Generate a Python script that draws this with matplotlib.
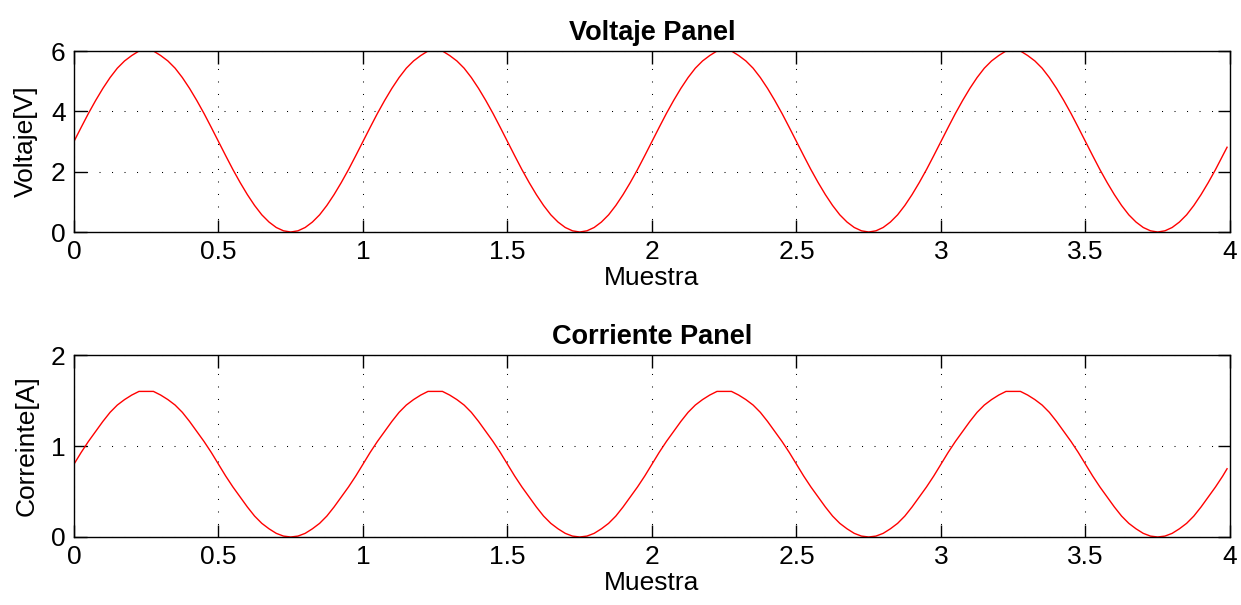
import numpy as np
import matplotlib
matplotlib.use("Agg")
import matplotlib.pyplot as plt

plt.rcParams["font.family"] = ["Liberation Sans", "DejaVu Sans"]
plt.rcParams["font.size"] = 19

# muestras cada 0.025, ultima en 3.99
muestra = list(np.arange(160) * 0.025) + [3.99]

voltaje = [
    3.00, 3.47, 3.93, 4.36, 4.76, 5.12, 5.43, 5.67, 5.85, 6.00,
    6.00, 6.00, 5.85, 5.67, 5.43, 5.12, 4.76, 4.36, 3.93, 3.47,
    3.00, 2.53, 2.07, 1.64, 1.24, 0.88, 0.57, 0.33, 0.15, 0.04,
    0.00, 0.04, 0.15, 0.33, 0.57, 0.88, 1.24, 1.64, 2.07, 2.53,
    3.00, 3.47, 3.93, 4.36, 4.76, 5.12, 5.43, 5.67, 5.85, 6.00,
    6.00, 6.00, 5.85, 5.67, 5.43, 5.12, 4.76, 4.36, 3.93, 3.47,
    3.00, 2.53, 2.07, 1.64, 1.24, 0.88, 0.57, 0.33, 0.15, 0.04,
    0.00, 0.04, 0.15, 0.33, 0.57, 0.88, 1.24, 1.64, 2.07, 2.53,
    3.00, 3.47, 3.93, 4.36, 4.76, 5.12, 5.43, 5.67, 5.85, 6.00,
    6.00, 6.00, 5.85, 5.67, 5.43, 5.12, 4.76, 4.36, 3.93, 3.47,
    3.00, 2.53, 2.07, 1.64, 1.24, 0.88, 0.57, 0.33, 0.15, 0.04,
    0.00, 0.04, 0.15, 0.33, 0.57, 0.88, 1.24, 1.64, 2.07, 2.53,
    3.00, 3.47, 3.93, 4.36, 4.76, 5.12, 5.43, 5.67, 5.85, 6.00,
    6.00, 6.00, 5.85, 5.67, 5.43, 5.12, 4.76, 4.36, 3.93, 3.47,
    3.00, 2.53, 2.07, 1.64, 1.24, 0.88, 0.57, 0.33, 0.15, 0.04,
    0.00, 0.04, 0.15, 0.33, 0.57, 0.88, 1.24, 1.64, 2.07, 2.53,
    2.81,
]

corriente = [
    0.80, 0.93, 1.05, 1.16, 1.27, 1.37, 1.45, 1.51, 1.56, 1.60,
    1.60, 1.60, 1.56, 1.51, 1.45, 1.37, 1.27, 1.16, 1.05, 0.93,
    0.80, 0.67, 0.55, 0.44, 0.33, 0.23, 0.15, 0.09, 0.04, 0.01,
    0.00, 0.01, 0.04, 0.09, 0.15, 0.23, 0.33, 0.44, 0.55, 0.67,
    0.80, 0.93, 1.05, 1.16, 1.27, 1.37, 1.45, 1.51, 1.56, 1.60,
    1.60, 1.60, 1.56, 1.51, 1.45, 1.37, 1.27, 1.16, 1.05, 0.93,
    0.80, 0.67, 0.55, 0.44, 0.33, 0.23, 0.15, 0.09, 0.04, 0.01,
    0.00, 0.01, 0.04, 0.09, 0.15, 0.23, 0.33, 0.44, 0.55, 0.67,
    0.80, 0.93, 1.05, 1.16, 1.27, 1.37, 1.45, 1.51, 1.56, 1.60,
    1.60, 1.60, 1.56, 1.51, 1.45, 1.37, 1.27, 1.16, 1.05, 0.93,
    0.80, 0.67, 0.55, 0.44, 0.33, 0.23, 0.15, 0.09, 0.04, 0.01,
    0.00, 0.01, 0.04, 0.09, 0.15, 0.23, 0.33, 0.44, 0.55, 0.67,
    0.80, 0.93, 1.05, 1.16, 1.27, 1.37, 1.45, 1.51, 1.56, 1.60,
    1.60, 1.60, 1.56, 1.51, 1.45, 1.37, 1.27, 1.16, 1.05, 0.93,
    0.80, 0.67, 0.55, 0.44, 0.33, 0.23, 0.15, 0.09, 0.04, 0.01,
    0.00, 0.01, 0.04, 0.09, 0.15, 0.23, 0.33, 0.44, 0.55, 0.67,
    0.75,
]

xticks = [0, 0.5, 1, 1.5, 2, 2.5, 3, 3.5, 4]
xticklabels = ["0", "0.5", "1", "1.5", "2", "2.5", "3", "3.5", "4"]


def panel(ax, y, title, ylabel, yticks):
    ax.plot(muestra, y, color="red", linewidth=1.0)
    ax.set_xlim(0, 4)
    ax.set_ylim(yticks[0], yticks[-1])
    ax.set_xticks(xticks)
    ax.set_xticklabels(xticklabels)
    ax.set_yticks(yticks)
    ax.set_yticklabels([str(v) for v in yticks])
    ax.grid(True, color="black", linestyle=(0, (1, 11)), linewidth=0.75)
    ax.tick_params(direction="in", length=9, width=1, top=True, right=True, pad=6)
    for s in ax.spines.values():
        s.set_linewidth(1.0)
    ax.set_title(title, fontweight="bold", fontsize=19.5, pad=8)
    ax.set_xlabel("Muestra", labelpad=1)
    ax.set_ylabel(ylabel, labelpad=9)


fig = plt.figure(figsize=(12.41, 6.05), dpi=100)
ax1 = fig.add_axes([0.0596, 0.6165, 0.9315, 0.2992])
ax2 = fig.add_axes([0.0596, 0.1124, 0.9315, 0.3008])

panel(ax1, voltaje, "Voltaje Panel", "Voltaje[V]", [0, 2, 4, 6])
panel(ax2, corriente, "Corriente Panel", "Correinte[A]", [0, 1, 2])

fig.savefig("out.png", dpi=100)
